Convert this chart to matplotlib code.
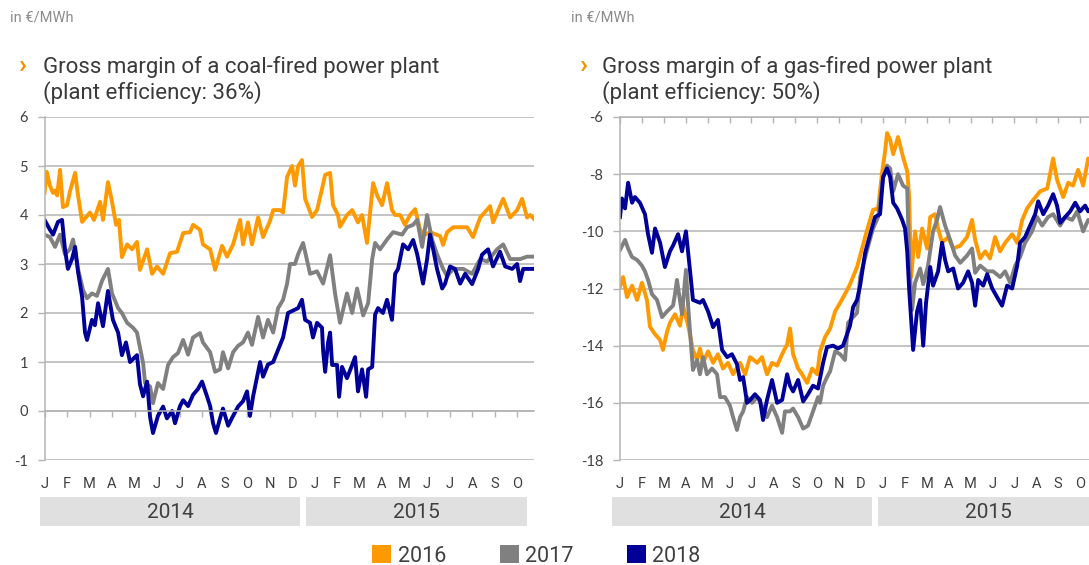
import numpy as np
import matplotlib
matplotlib.use('Agg')
import matplotlib.pyplot as plt
import matplotlib.transforms as mtransforms
from matplotlib.patches import Rectangle, Patch

plt.rcParams['axes.unicode_minus'] = False

months = ['J', 'F', 'M', 'A', 'M', 'J', 'J', 'A', 'S', 'O', 'N', 'D',
          'J', 'F', 'M', 'A', 'M', 'J', 'J', 'A', 'S', 'O']
years = ['2014', '2015']
series_names = ['2016', '2017', '2018']
colors = ['#ff9900', '#808080', '#000099']

coal_title = 'Gross margin of a coal-fired power plant\n(plant efficiency: 36%)'
gas_title = 'Gross margin of a gas-fired power plant\n(plant efficiency: 50%)'
unit = 'in \u20ac/MWh'

# (months since 1 Jan 2014, EUR/MWh) for each delivery year
coal_2016 = [(0.0, 4.45), (0.1, 4.88), (0.24, 4.6), (0.38, 4.45), (0.47, 4.5), (0.56, 4.4), (0.69, 4.92),
             (0.82, 4.16), (1.0, 4.2), (1.13, 4.48), (1.36, 4.86), (1.49, 4.4), (1.67, 3.86), (1.84, 3.95),
             (2.02, 4.05), (2.2, 3.9), (2.47, 4.27), (2.6, 3.9), (2.82, 4.67), (3.0, 4.27), (3.18, 3.8),
             (3.31, 3.9), (3.44, 3.14), (3.67, 3.4), (3.89, 3.3), (4.11, 3.45), (4.24, 2.88), (4.56, 3.3),
             (4.78, 2.8), (5.0, 2.95), (5.27, 2.8), (5.58, 3.22), (5.89, 3.25), (6.16, 3.63), (6.47, 3.65),
             (6.6, 3.8), (6.91, 3.7), (7.04, 3.4), (7.36, 3.3), (7.58, 2.88), (7.89, 3.37), (8.11, 3.15),
             (8.38, 3.4), (8.69, 3.9), (8.82, 3.4), (9.04, 3.85), (9.22, 3.4), (9.49, 3.95), (9.71, 3.55),
             (10.02, 3.88), (10.16, 4.1), (10.47, 4.1), (10.6, 4.05), (10.78, 4.78), (11.0, 5.0), (11.13, 4.6),
             (11.27, 5.0), (11.44, 5.12), (11.58, 4.33), (11.89, 3.96), (12.11, 4.1), (12.33, 4.53),
             (12.47, 4.82), (12.69, 4.86), (12.82, 4.2), (13.04, 4.0), (13.13, 3.76), (13.44, 4.0),
             (13.67, 4.1), (13.93, 3.85), (14.11, 4.0), (14.33, 3.43), (14.6, 4.65), (14.78, 4.4), (15.0, 4.2),
             (15.22, 4.65), (15.44, 4.1), (15.58, 4.0), (15.8, 4.0), (16.02, 3.8), (16.24, 4.0), (16.47, 4.12),
             (16.69, 3.7), (16.91, 3.6), (17.13, 3.65), (17.58, 3.57), (17.71, 3.39), (17.89, 3.65),
             (18.16, 3.75), (18.47, 3.75), (18.78, 3.75), (19.04, 3.55), (19.36, 3.95), (19.8, 4.18),
             (19.93, 3.85), (20.38, 4.33), (20.69, 3.95), (21.0, 4.1), (21.22, 4.33), (21.44, 3.95),
             (21.58, 4.0), (21.75, 3.92)]

coal_2017 = [(0.0, 3.6), (0.24, 3.55), (0.47, 3.35), (0.69, 3.6), (0.91, 3.2), (1.13, 3.3), (1.27, 3.5),
             (1.49, 2.9), (1.71, 2.47), (1.89, 2.3), (2.11, 2.4), (2.33, 2.35), (2.56, 2.66), (2.82, 2.9),
             (3.0, 2.4), (3.27, 2.1), (3.44, 2.0), (3.67, 1.8), (3.93, 1.7), (4.11, 1.6), (4.38, 0.98),
             (4.47, 0.57), (4.69, 0.5), (4.82, 0.16), (5.04, 0.57), (5.27, 0.45), (5.49, 0.94), (5.71, 1.1),
             (5.93, 1.18), (6.16, 1.45), (6.38, 1.15), (6.6, 1.5), (6.91, 1.59), (7.04, 1.4), (7.36, 1.2),
             (7.58, 0.8), (7.8, 0.85), (7.93, 1.2), (8.16, 0.87), (8.38, 1.2), (8.6, 1.33), (8.82, 1.4),
             (9.04, 1.6), (9.22, 1.35), (9.49, 1.92), (9.71, 1.5), (9.93, 1.86), (10.16, 1.6), (10.38, 2.1),
             (10.6, 2.27), (10.78, 2.6), (10.91, 3.0), (11.13, 3.0), (11.27, 3.2), (11.49, 3.43), (11.8, 2.8),
             (12.11, 2.85), (12.38, 2.6), (12.69, 3.18), (12.91, 2.4), (13.13, 1.8), (13.44, 2.4), (13.67, 2.0),
             (13.89, 2.5), (14.16, 1.95), (14.38, 2.2), (14.56, 3.1), (14.69, 3.43), (14.91, 3.3), (15.22, 3.5),
             (15.49, 3.65), (15.89, 3.6), (16.11, 3.75), (16.38, 3.8), (16.56, 3.9), (16.78, 3.35), (17.0, 4.0),
             (17.22, 3.5), (17.44, 3.2), (17.71, 2.9), (17.89, 2.75), (18.16, 2.9), (18.6, 2.9), (19.0, 2.8),
             (19.36, 3.1), (19.67, 3.05), (20.11, 3.3), (20.38, 3.4), (20.69, 3.1), (21.13, 3.1), (21.44, 3.15),
             (21.75, 3.15)]

coal_2018 = [(0.0, 3.9), (0.24, 3.7), (0.38, 3.6), (0.6, 3.86), (0.78, 3.9), (0.91, 3.3), (1.04, 2.9),
             (1.22, 3.1), (1.36, 3.35), (1.49, 2.84), (1.67, 2.33), (1.8, 1.6), (1.89, 1.45), (2.11, 1.86),
             (2.24, 1.75), (2.38, 2.2), (2.6, 1.73), (2.82, 2.45), (3.04, 1.86), (3.27, 1.6), (3.44, 1.14),
             (3.62, 1.4), (3.8, 1.0), (4.11, 1.14), (4.24, 0.55), (4.38, 0.3), (4.56, 0.6), (4.69, -0.12),
             (4.82, -0.45), (5.04, -0.1), (5.27, 0.09), (5.44, -0.15), (5.67, 0.0), (5.8, -0.25), (6.02, 0.1),
             (6.16, 0.22), (6.38, 0.1), (6.6, 0.33), (6.82, 0.45), (7.0, 0.6), (7.22, 0.3), (7.36, 0.1),
             (7.49, -0.25), (7.62, -0.45), (7.8, -0.15), (7.93, 0.05), (8.16, -0.3), (8.38, -0.1), (8.6, 0.09),
             (8.82, 0.2), (9.0, 0.4), (9.13, -0.1), (9.27, 0.3), (9.58, 1.0), (9.71, 0.7), (9.93, 0.95),
             (10.16, 1.0), (10.38, 1.25), (10.6, 1.5), (10.82, 2.0), (11.04, 2.05), (11.27, 2.1), (11.44, 2.27),
             (11.58, 1.86), (11.8, 1.8), (11.93, 1.5), (12.11, 1.8), (12.33, 1.7), (12.38, 1.23), (12.47, 0.8),
             (12.6, 1.4), (12.69, 1.6), (12.78, 0.94), (13.0, 0.94), (13.09, 0.29), (13.22, 0.9), (13.44, 0.67),
             (13.67, 0.94), (13.8, 1.1), (13.93, 0.4), (14.11, 0.85), (14.29, 0.29), (14.38, 0.85), (14.56, 0.9),
             (14.69, 1.97), (14.82, 2.1), (15.04, 2.0), (15.22, 2.27), (15.44, 1.86), (15.58, 2.8), (15.71, 2.9),
             (15.93, 3.4), (16.16, 3.3), (16.38, 3.49), (16.56, 3.2), (16.69, 2.9), (16.82, 2.6), (17.0, 3.1),
             (17.13, 3.6), (17.27, 3.3), (17.44, 2.9), (17.67, 2.5), (17.8, 2.6), (18.02, 2.95), (18.24, 2.9),
             (18.47, 2.6), (18.69, 2.8), (19.0, 2.59), (19.27, 2.9), (19.44, 3.19), (19.71, 3.3), (19.93, 2.95),
             (20.24, 3.25), (20.47, 2.95), (20.78, 2.9), (21.0, 3.0), (21.13, 2.65), (21.27, 2.9), (21.44, 2.9),
             (21.75, 2.9)]

gas_2016 = [(0.0, -11.94), (0.14, -11.6), (0.32, -12.3), (0.55, -11.9), (0.78, -12.4), (1.0, -11.8),
            (1.23, -12.4), (1.37, -13.34), (1.6, -13.6), (1.83, -13.8), (1.96, -14.15), (2.15, -13.5),
            (2.28, -13.2), (2.51, -12.9), (2.74, -13.3), (2.88, -12.6), (3.11, -13.3), (3.33, -14.15),
            (3.52, -14.5), (3.65, -14.1), (3.79, -14.6), (4.02, -14.2), (4.25, -14.6), (4.47, -14.3),
            (4.7, -14.8), (4.93, -14.6), (5.16, -15.0), (5.48, -14.6), (5.71, -15.0), (5.94, -14.4),
            (6.26, -14.6), (6.48, -14.4), (6.71, -15.0), (6.94, -14.6), (7.17, -14.7), (7.4, -14.3),
            (7.63, -13.95), (7.76, -13.4), (7.9, -14.3), (8.13, -14.8), (8.31, -15.0), (8.54, -15.3),
            (8.77, -14.8), (9.0, -15.0), (9.13, -14.2), (9.36, -13.7), (9.59, -13.4), (9.82, -12.8),
            (10.05, -12.5), (10.37, -12.05), (10.5, -11.85), (10.82, -11.25), (10.96, -10.85), (11.28, -9.95),
            (11.55, -9.25), (11.78, -9.2), (11.96, -7.96), (12.1, -7.2), (12.19, -6.56), (12.33, -6.8),
            (12.47, -7.3), (12.69, -6.7), (12.92, -7.4), (13.11, -7.9), (13.2, -8.8), (13.29, -11.6),
            (13.47, -10.0), (13.61, -10.9), (13.79, -9.9), (14.02, -10.6), (14.16, -9.5), (14.38, -9.4),
            (14.52, -9.9), (14.7, -10.4), (14.98, -10.2), (15.21, -10.6), (15.53, -10.5), (15.84, -10.2),
            (16.07, -9.6), (16.21, -10.3), (16.44, -10.95), (16.67, -10.7), (16.89, -10.95), (17.12, -10.2),
            (17.35, -10.7), (17.58, -10.4), (17.9, -10.1), (18.13, -10.4), (18.36, -9.6), (18.58, -9.2),
            (18.86, -8.9), (19.18, -8.6), (19.5, -8.5), (19.77, -7.45), (19.95, -8.2), (20.23, -8.8),
            (20.46, -8.3), (20.68, -8.4), (20.91, -7.85), (21.14, -8.4), (21.37, -7.45), (21.6, -7.9),
            (21.75, -8.0)]

gas_2017 = [(0.0, -10.65), (0.23, -10.3), (0.37, -10.6), (0.55, -10.9), (0.78, -11.0), (1.0, -11.2),
            (1.14, -11.4), (1.28, -11.7), (1.46, -12.2), (1.69, -12.4), (1.92, -13.0), (2.15, -12.8),
            (2.42, -12.6), (2.51, -12.2), (2.6, -11.7), (2.83, -12.9), (3.01, -11.35), (3.11, -12.6),
            (3.2, -13.55), (3.33, -14.85), (3.52, -14.5), (3.65, -15.0), (3.79, -14.4), (3.97, -15.0),
            (4.2, -14.8), (4.43, -15.0), (4.57, -15.8), (4.79, -15.8), (5.02, -16.1), (5.16, -16.5),
            (5.34, -16.95), (5.48, -16.5), (5.62, -16.3), (5.8, -15.8), (6.03, -16.0), (6.26, -15.8),
            (6.48, -16.1), (6.71, -16.5), (6.94, -16.1), (7.17, -16.5), (7.4, -17.05), (7.53, -16.3),
            (7.76, -16.3), (7.9, -16.2), (8.13, -16.5), (8.36, -16.9), (8.58, -16.8), (8.81, -16.3),
            (9.04, -15.8), (9.13, -16.0), (9.27, -15.4), (9.45, -15.1), (9.59, -14.9), (9.82, -14.2),
            (10.05, -14.3), (10.27, -14.5), (10.41, -13.2), (10.64, -13.0), (10.82, -12.85), (10.96, -11.6),
            (11.28, -10.65), (11.55, -9.9), (11.78, -9.5), (12.01, -8.1), (12.19, -7.7), (12.33, -7.8),
            (12.47, -8.6), (12.69, -8.0), (12.92, -8.4), (13.11, -8.5), (13.2, -11.0), (13.33, -12.75),
            (13.47, -11.8), (13.7, -11.3), (13.84, -11.85), (14.06, -11.2), (14.29, -10.0), (14.47, -9.6),
            (14.61, -9.15), (14.84, -9.8), (15.07, -10.3), (15.3, -10.85), (15.53, -11.1), (15.84, -10.85),
            (16.07, -10.6), (16.21, -11.45), (16.44, -11.2), (16.76, -11.4), (17.03, -11.4), (17.35, -11.6),
            (17.58, -11.4), (17.81, -11.8), (18.04, -11.2), (18.26, -10.9), (18.49, -10.4), (18.81, -10.0),
            (19.04, -9.5), (19.27, -9.8), (19.54, -9.5), (19.77, -9.4), (20.09, -9.8), (20.32, -9.5),
            (20.64, -9.6), (20.87, -9.3), (21.14, -10.0), (21.37, -9.6), (21.6, -9.7), (21.75, -9.8)]

gas_2018 = [(0.0, -9.5), (0.09, -8.85), (0.23, -9.2), (0.37, -8.3), (0.55, -9.0), (0.68, -8.8), (0.91, -9.0),
            (1.14, -9.4), (1.28, -10.1), (1.46, -10.75), (1.6, -9.9), (1.83, -10.4), (2.05, -11.25),
            (2.28, -10.7), (2.42, -10.5), (2.65, -10.1), (2.83, -10.7), (3.01, -10.0), (3.2, -11.4),
            (3.33, -12.4), (3.65, -12.5), (3.79, -12.4), (4.02, -12.8), (4.25, -13.35), (4.47, -13.1),
            (4.66, -14.15), (4.89, -14.4), (5.11, -14.3), (5.34, -14.65), (5.48, -15.2), (5.62, -15.1),
            (5.8, -16.0), (5.94, -15.9), (6.16, -15.7), (6.39, -15.9), (6.53, -16.6), (6.71, -15.9),
            (6.94, -15.2), (7.17, -16.0), (7.4, -15.9), (7.63, -15.0), (7.76, -15.4), (7.9, -15.6),
            (8.13, -15.2), (8.36, -15.95), (8.58, -15.7), (8.81, -15.4), (9.04, -15.5), (9.27, -14.6),
            (9.45, -14.05), (9.73, -14.0), (9.95, -14.1), (10.18, -14.0), (10.5, -13.3), (10.64, -12.65),
            (10.82, -12.4), (10.96, -11.9), (11.19, -10.75), (11.42, -10.1), (11.64, -9.5), (11.87, -9.4),
            (12.01, -8.1), (12.19, -7.8), (12.33, -8.1), (12.47, -9.0), (12.65, -9.2), (12.88, -9.6),
            (13.01, -9.9), (13.11, -10.7), (13.2, -12.05), (13.38, -14.15), (13.56, -12.8), (13.7, -12.4),
            (13.84, -14.0), (13.97, -12.5), (14.16, -11.25), (14.29, -11.9), (14.52, -11.4), (14.7, -10.4),
            (14.84, -11.0), (14.98, -11.4), (15.21, -11.3), (15.43, -12.0), (15.66, -11.8), (15.89, -11.4),
            (16.07, -11.8), (16.21, -12.6), (16.35, -11.7), (16.58, -11.9), (16.76, -11.5), (16.99, -12.0),
            (17.21, -12.3), (17.44, -12.6), (17.67, -11.9), (17.9, -12.0), (18.13, -11.2), (18.26, -10.4),
            (18.49, -10.2), (18.72, -9.8), (18.95, -9.4), (19.09, -8.95), (19.32, -9.4), (19.54, -9.1),
            (19.77, -8.7), (19.95, -9.1), (20.09, -9.7), (20.32, -9.5), (20.55, -9.3), (20.78, -9.0),
            (21.0, -9.3), (21.23, -9.1), (21.37, -9.3), (21.6, -9.2), (21.75, -9.3)]

coal_yticks = [-1, 0, 1, 2, 3, 4, 5, 6]
gas_yticks = [-18, -16, -14, -12, -10, -8, -6]

W, H = 1089, 565
grid_c = '#b4b4b4'
text_c = '#404040'


def fx(px):
    return px / W


def fy(py):
    return 1 - py / H


def draw_panel(ax, series, yticks, cross):
    for data, c in zip(series, colors):
        t, v = np.array(data).T
        ax.plot(t, v, color=c, lw=2.8, solid_joinstyle='round')
    ax.set_xlim(0, 21.75)
    ax.set_ylim(yticks[0], yticks[-1])
    ax.set_yticks(yticks)
    ax.set_yticklabels([str(y) for y in yticks], fontfamily='Lato', fontsize=10.5, color=text_c)
    ax.yaxis.grid(True, color=grid_c, lw=1.1)
    ax.set_axisbelow(True)
    for s in ['top', 'right']:
        ax.spines[s].set_visible(False)
    ax.spines['left'].set_color(grid_c)
    ax.spines['left'].set_linewidth(1.1)
    ax.spines['bottom'].set_position(('data', cross))
    ax.spines['bottom'].set_color(grid_c)
    ax.spines['bottom'].set_linewidth(1.1)
    ax.set_xticks(np.arange(len(months)))
    ax.tick_params(axis='x', direction='out', length=4, width=1, color=grid_c, labelbottom=False)
    ax.tick_params(axis='y', direction='out', length=5, width=1, color=grid_c, pad=7)
    trans = mtransforms.blended_transform_factory(ax.transData, ax.transAxes)
    for i, m in enumerate(months):
        ax.text(i, -0.07, m, transform=trans, ha='center', va='center', fontsize=10.5,
                family='Roboto', color=text_c, clip_on=False)


def year_bands(fig, spans):
    for (x0, x1), year in zip(spans, years):
        fig.patches.append(Rectangle((fx(x0), fy(526)), (x1 - x0) / W, 29 / H,
                                     transform=fig.transFigure, facecolor='#e0e0e0',
                                     edgecolor='none', zorder=0))
        fig.text(fx((x0 + x1) / 2), fy(512), year, ha='center', va='center', fontsize=15,
                 family='Roboto', color=text_c)


def header(fig, x_unit, x_arrow, x_text, title):
    fig.text(fx(x_unit), fy(22), unit, fontsize=10.5, family='Roboto', color='#8c8c8c', va='baseline')
    fig.text(fx(x_arrow), fy(73), '\u203a', fontsize=19, family='Roboto', fontweight='bold',
             color='#f39200', va='baseline')
    line1, line2 = title.split('\n')
    fig.text(fx(x_text), fy(73), line1, fontsize=16, family='Roboto', color='#3a3a3a', va='baseline')
    fig.text(fx(x_text), fy(98.5), line2, fontsize=16, family='Roboto', color='#3a3a3a', va='baseline')


fig = plt.figure(figsize=(W / 100, H / 100), dpi=100)

ax1 = fig.add_axes([fx(44.5), fy(460), 489.5 / W, 343 / H])
draw_panel(ax1, [coal_2016, coal_2017, coal_2018], coal_yticks, 0)

ax2 = fig.add_axes([fx(620), fy(460), 476.5 / W, 343 / H])
draw_panel(ax2, [gas_2016, gas_2017, gas_2018], gas_yticks, -6)

year_bands(fig, [(40, 300), (306, 527)])
year_bands(fig, [(612, 872), (878, 1099)])

header(fig, 10, 19, 43, coal_title)
header(fig, 571, 580, 602, gas_title)

handles = [Patch(facecolor=c, edgecolor='none') for c in colors]
fig.legend(handles, series_names, loc='center', bbox_to_anchor=(fx(536.5), fy(556)), ncol=3,
           frameon=False, handlelength=0.87, handleheight=0.87, handletextpad=0.3,
           columnspacing=2.5, borderpad=0, labelcolor=text_c,
           prop={'family': 'Roboto', 'size': 15.5})

fig.savefig('out.png', dpi=100)
